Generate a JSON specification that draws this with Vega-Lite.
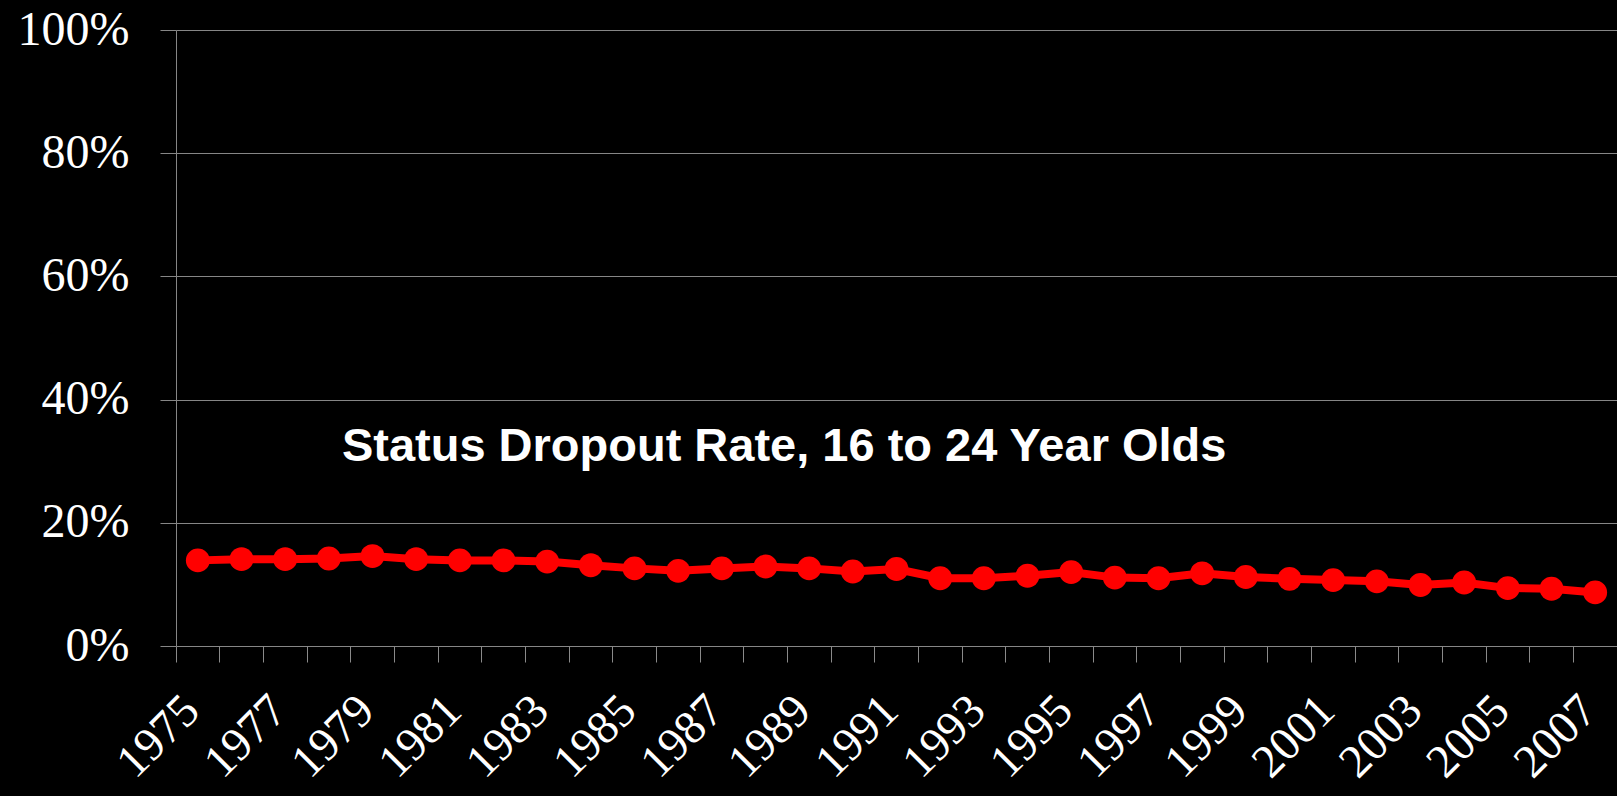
{
  "$schema": "https://vega.github.io/schema/vega-lite/v6.json",
  "width": 1441,
  "height": 616,
  "autosize": {"type": "none"},
  "padding": {"left": 176, "top": 30, "right": 0, "bottom": 150},
  "background": "#000000",
  "config": {"view": {"stroke": null}},
  "datasets": {
    "rates": [
      {"year": 1975, "rate": 0.139},
      {"year": 1976, "rate": 0.141},
      {"year": 1977, "rate": 0.141},
      {"year": 1978, "rate": 0.142},
      {"year": 1979, "rate": 0.146},
      {"year": 1980, "rate": 0.141},
      {"year": 1981, "rate": 0.139},
      {"year": 1982, "rate": 0.139},
      {"year": 1983, "rate": 0.137},
      {"year": 1984, "rate": 0.131},
      {"year": 1985, "rate": 0.126},
      {"year": 1986, "rate": 0.122},
      {"year": 1987, "rate": 0.126},
      {"year": 1988, "rate": 0.129},
      {"year": 1989, "rate": 0.126},
      {"year": 1990, "rate": 0.121},
      {"year": 1991, "rate": 0.125},
      {"year": 1992, "rate": 0.110},
      {"year": 1993, "rate": 0.110},
      {"year": 1994, "rate": 0.114},
      {"year": 1995, "rate": 0.120},
      {"year": 1996, "rate": 0.111},
      {"year": 1997, "rate": 0.110},
      {"year": 1998, "rate": 0.118},
      {"year": 1999, "rate": 0.112},
      {"year": 2000, "rate": 0.109},
      {"year": 2001, "rate": 0.107},
      {"year": 2002, "rate": 0.105},
      {"year": 2003, "rate": 0.099},
      {"year": 2004, "rate": 0.103},
      {"year": 2005, "rate": 0.094},
      {"year": 2006, "rate": 0.093},
      {"year": 2007, "rate": 0.087}
    ],
    "note": [
      {"year": 1989, "rate": 0.323, "label": "Status Dropout Rate, 16 to 24 Year Olds"}
    ]
  },
  "encoding": {
    "x": {
      "field": "year",
      "type": "ordinal",
      "scale": {"type": "band", "paddingInner": 0, "paddingOuter": 0},
      "axis": {
        "title": null,
        "bandPosition": 0,
        "labelOffset": 4,
        "labelExpr": "datum.value % 2 == 1 ? datum.label : ''",
        "labelAngle": -45,
        "labelAlign": "right",
        "labelBaseline": "alphabetic",
        "labelPadding": 51,
        "labelOverlap": false,
        "labelBound": false,
        "labelFlush": false,
        "labelFont": "Liberation Serif",
        "labelFontSize": 47,
        "labelColor": "#ffffff",
        "tickSize": 16,
        "tickColor": "#8a8a8a",
        "tickWidth": 1,
        "domain": false,
        "grid": false
      }
    },
    "y": {
      "field": "rate",
      "type": "quantitative",
      "scale": {"domain": [0, 1], "nice": false, "zero": true},
      "axis": {
        "title": null,
        "values": [0, 0.2, 0.4, 0.6, 0.8, 1],
        "format": ".0%",
        "labelFont": "Liberation Serif",
        "labelFontSize": 48,
        "labelColor": "#ffffff",
        "labelPadding": 31,
        "tickSize": 16,
        "tickColor": "#868686",
        "tickWidth": 1,
        "grid": true,
        "gridColor": "#868686",
        "gridWidth": 1,
        "gridOpacity": 1,
        "domain": true,
        "domainColor": "#868686",
        "domainWidth": 1
      }
    }
  },
  "layer": [
    {
      "data": {"name": "rates"},
      "mark": {
        "type": "line",
        "color": "#ff0000",
        "strokeWidth": 8,
        "point": {"filled": true, "size": 570, "color": "#ff0000", "opacity": 1}
      }
    },
    {
      "data": {"name": "note"},
      "mark": {
        "type": "text",
        "font": "Liberation Sans",
        "fontWeight": "bold",
        "fontSize": 47,
        "color": "#ffffff",
        "align": "center",
        "baseline": "middle",
        "dx": -25
      },
      "encoding": {"text": {"field": "label"}}
    }
  ]
}
